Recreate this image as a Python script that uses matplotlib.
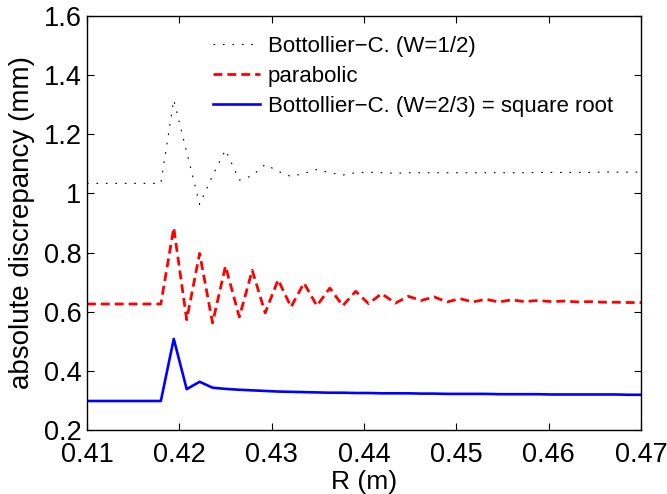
import matplotlib
matplotlib.use('Agg')
import matplotlib.pyplot as plt

plt.rcParams['font.family'] = ['Liberation Sans', 'DejaVu Sans']

# radius (m)
R = [0.41, 0.4180, 0.4194, 0.4208, 0.4222, 0.4236, 0.4250, 0.4265, 0.4279,
     0.4293, 0.4307, 0.4321, 0.4335, 0.4349, 0.4363, 0.4377, 0.4391, 0.4405,
     0.4419, 0.4434, 0.4448, 0.4462, 0.4476, 0.4490, 0.4504, 0.4518, 0.4532,
     0.4546, 0.4560, 0.4574, 0.4588, 0.4603, 0.4617, 0.4631, 0.4645, 0.4659,
     0.4673, 0.4687, 0.47]

# Bottollier-C. (W=1/2)
bc_half = [1.034, 1.034, 1.316, 1.140, 0.963, 1.060, 1.147, 1.045, 1.060,
           1.098, 1.075, 1.057, 1.068, 1.081, 1.070, 1.062, 1.070, 1.072,
           1.070, 1.068, 1.070, 1.070, 1.070, 1.070, 1.070, 1.070, 1.070,
           1.070, 1.070, 1.070, 1.071, 1.071, 1.071, 1.071, 1.071, 1.072,
           1.072, 1.072, 1.072]

# parabolic
parab = [0.626, 0.626, 0.884, 0.573, 0.797, 0.562, 0.754, 0.582, 0.740,
         0.596, 0.708, 0.616, 0.697, 0.620, 0.680, 0.620, 0.669, 0.627,
         0.661, 0.629, 0.652, 0.638, 0.650, 0.633, 0.644, 0.633, 0.642,
         0.633, 0.640, 0.634, 0.638, 0.634, 0.636, 0.633, 0.634, 0.632,
         0.632, 0.631, 0.631]

# Bottollier-C. (W=2/3) = square root
bc_23 = [0.298, 0.298, 0.508, 0.338, 0.363, 0.343, 0.339, 0.336, 0.334,
         0.332, 0.330, 0.329, 0.328, 0.327, 0.326, 0.326, 0.325, 0.325,
         0.324, 0.324, 0.324, 0.323, 0.323, 0.322, 0.322, 0.322, 0.322,
         0.321, 0.321, 0.321, 0.321, 0.320, 0.320, 0.320, 0.320, 0.320,
         0.320, 0.319, 0.319]

xticks = [0.41, 0.42, 0.43, 0.44, 0.45, 0.46, 0.47]
xticklabels = ['0.41', '0.42', '0.43', '0.44', '0.45', '0.46', '0.47']
yticks = [0.2, 0.4, 0.6, 0.8, 1.0, 1.2, 1.4, 1.6]
yticklabels = ['0.2', '0.4', '0.6', '0.8', '1', '1.2', '1.4', '1.6']

fig = plt.figure(figsize=(6.67, 4.94), dpi=100)
ax = fig.add_axes([0.1304, 0.1296, 0.8306, 0.838])

ax.plot(R, bc_half, color='k', lw=0.8, linestyle=(0, (1.5, 7)),
        label='Bottollier\u2212C. (W=1/2)')
ax.plot(R, parab, color='#ff0000', lw=2, linestyle=(0, (3.2, 1.8)),
        label='parabolic')
ax.plot(R, bc_23, color='#0000ff', lw=1.9, label='Bottollier\u2212C. (W=2/3) = square root')

ax.set_xlim(0.41, 0.47)
ax.set_ylim(0.2, 1.6)
ax.set_xticks(xticks)
ax.set_xticklabels(xticklabels)
ax.set_yticks(yticks)
ax.set_yticklabels(yticklabels)
ax.tick_params(direction='in', top=True, right=True, length=5, width=0.8,
               labelsize=19.5)
ax.tick_params(axis='x', pad=9)
ax.tick_params(axis='y', pad=4)
for s in ax.spines.values():
    s.set_linewidth(1.0)

ax.set_xlabel('R (m)', fontsize=19, labelpad=1)
ax.set_ylabel('absolute discrepancy (mm)', fontsize=20, labelpad=6)

ax.legend(loc='upper left', bbox_to_anchor=(0.2274, 0.952), frameon=False,
          fontsize=16, handlelength=2.1, handletextpad=0.36, labelspacing=0.4,
          borderpad=0, borderaxespad=0)

fig.savefig('out.png', dpi=100)
